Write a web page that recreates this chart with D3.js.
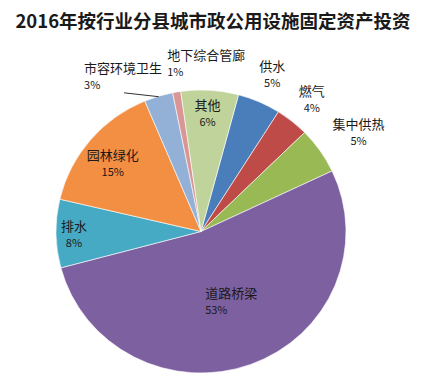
<!DOCTYPE html>
<html>
<head>
<meta charset="utf-8">
<script src="https://cdn.jsdelivr.net/npm/d3@7"></script>
<style>
  body { margin: 0; background: #fff; }
  text { font-family: "Noto Sans CJK SC", "Noto Sans", sans-serif; fill: #1a1a1a; }
</style>
</head>
<body>
<div id="chart"></div>
<script>
// Data
const title = "2016年按行业分县城市政公用设施固定资产投资";
const categories = ["供水", "燃气", "集中供热", "道路桥梁", "排水", "园林绿化", "市容环境卫生", "地下综合管廊", "其他"];
const shares = [4.8, 3.7, 5.3, 52.9, 7.8, 15.0, 3.2, 0.9, 6.4];
const shareLabels = ["5%", "4%", "5%", "53%", "8%", "15%", "3%", "1%", "6%"];
const colors = ["#4a7ebb", "#be4b48", "#98b954", "#7d60a0", "#46aac4", "#f38f43", "#93b1d6", "#d99694", "#bfd39a"];

// label placement: angle shift from slice middle (deg), distance from centre, alignment
const labelLayout = [
  { shift: 0.2, r: 172, align: "middle" },
  { shift: 0.3, r: 171, align: "middle" },
  { shift: 2.0, r: 183, align: "middle" },
  { shift: 16.8, r: 70, align: "start" },
  { shift: -0.3, r: 124, align: "middle" },
  { shift: -1.7, r: 110, align: "middle" },
  { shift: -19.2, r: 193, align: "start" },
  { shift: -1.4, r: 172, align: "start" },
  { shift: -0.4, r: 119, align: "middle" },
];

// Dimensions
const dimensions = {
  width: 423,
  height: 383,
  cx: 201,
  cy: 231.5,
  radius: 141.5,
  stretchX: 145 / 141.5,
  startAngle: 15,
};

const rad = (deg) => (deg * Math.PI) / 180;

const svg = d3
  .select("#chart")
  .append("svg")
  .attr("width", dimensions.width)
  .attr("height", dimensions.height);

svg
  .append("text")
  .attr("x", 213)
  .attr("y", 28)
  .attr("text-anchor", "middle")
  .style("font-size", "18.5px")
  .style("font-weight", "bold")
  .text(title);

const dataset = categories.map((name, i) => ({ name, value: shares[i], label: shareLabels[i], color: colors[i] }));

const pie = d3
  .pie()
  .sort(null)
  .value((d) => d.value)
  .startAngle(rad(dimensions.startAngle))
  .endAngle(rad(dimensions.startAngle + 360));

const arcs = pie(dataset);
const arc = d3.arc().innerRadius(0).outerRadius(dimensions.radius);

// polar -> screen, with the slight horizontal stretch of the original
const point = (angle, r) => [
  dimensions.cx + dimensions.stretchX * r * Math.sin(angle),
  dimensions.cy - r * Math.cos(angle),
];

const pieGroup = svg
  .append("g")
  .attr("transform", `translate(${dimensions.cx}, ${dimensions.cy}) scale(${dimensions.stretchX}, 1)`);

pieGroup
  .selectAll("path")
  .data(arcs)
  .join("path")
  .attr("d", arc)
  .attr("fill", (d) => d.data.color)
  .attr("stroke", "#fff")
  .attr("stroke-width", 0.6);

// leader line for 市容环境卫生
const leaderIdx = categories.indexOf("市容环境卫生");
const leaderArc = arcs[leaderIdx];
const leaderMid = (leaderArc.startAngle + leaderArc.endAngle) / 2;
const leaderEnd = point(leaderMid, dimensions.radius - 0.5);
const leaderLabel = point(leaderMid + rad(labelLayout[leaderIdx].shift), labelLayout[leaderIdx].r);
svg
  .append("line")
  .attr("x1", leaderLabel[0] + 40)
  .attr("y1", leaderLabel[1] + 17)
  .attr("x2", leaderEnd[0])
  .attr("y2", leaderEnd[1])
  .attr("stroke", "#333")
  .attr("stroke-width", 1);

// labels
const labels = svg
  .append("g")
  .selectAll("g")
  .data(arcs)
  .join("g")
  .attr("transform", (d, i) => {
    const mid = (d.startAngle + d.endAngle) / 2 + rad(labelLayout[i].shift);
    const [x, y] = point(mid, labelLayout[i].r);
    return `translate(${x}, ${y})`;
  })
  .attr("text-anchor", (d, i) => labelLayout[i].align);

labels
  .append("text")
  .attr("y", -3)
  .style("font-size", "13px")
  .text((d) => d.data.name);

labels
  .append("text")
  .attr("y", 13)
  .style("font-size", "11px")
  .text((d) => d.data.label);
</script>
</body>
</html>
